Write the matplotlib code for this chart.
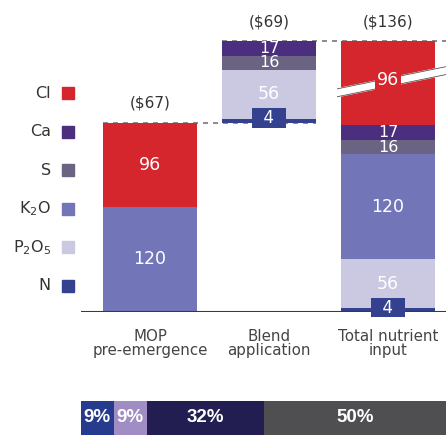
import matplotlib
matplotlib.use('Agg')
import matplotlib.pyplot as plt
from matplotlib.patches import Rectangle

plt.rcParams['font.family'] = ['DejaVu Sans']

# 养分（自下而上堆叠）及颜色
nutrients = ['N', 'P$_2$O$_5$', 'K$_2$O', 'S', 'Ca', 'Cl']
colors = ['#33418f', '#cbc8e2', '#7276b8', '#6a6482', '#4b2e7e', '#d5262e']

stages = ['MOP\npre-emergence', 'Blend\napplication', 'Total nutrient\ninput']
costs = ['($67)', '($69)', '($136)']

# 各阶段养分投入量，顺序同 nutrients
mop = [0, 0, 120, 0, 0, 96]
blend = [4, 56, 0, 16, 17, 0]
total = [4, 56, 120, 16, 17, 96]

# 底部占比条
share_vals = [9, 9, 32, 50]
share_labels = ['9%', '9%', '32%', '50%']
share_colors = ['#263a8e', '#9f8dc4', '#221e52', '#4f4f51']

W, H = 446, 437
fig = plt.figure(figsize=(W / 100, H / 100), dpi=100)
ax = fig.add_axes([81 / W, 1 - 312 / H, 365 / W, 312 / H])

series = [mop, blend, total]
starts = [0, sum(mop), 0]   # 瀑布图：混施从MOP顶部开始
w = 0.79
tops = []
for i, (vals, b0) in enumerate(zip(series, starts)):
    bottom = b0
    for j, v in enumerate(vals):
        if v == 0:
            continue
        ax.bar(i, v, w, bottom=bottom, color=colors[j], zorder=2)
        yc = bottom + v / 2
        if j == 0:
            # N量太小，标签放在色块里
            ax.text(i, yc + 3, '  %d  ' % v, ha='center', va='center', color='white',
                    fontsize=12, zorder=6,
                    bbox=dict(boxstyle='square,pad=0.05', fc=colors[0], ec='none'))
        elif i == 2 and nutrients[j] == 'Cl':
            # 截断标记
            x0, x1 = i - w / 2 - 0.03, i + w / 2 + 0.12
            s = 26.0
            d = 4.5
            ya = yc - s / 2 + 2
            yb = yc + s / 2 + 2
            ax.fill([x0, x1, x1, x0], [ya - d, yb - d, yb + d, ya + d],
                    color='white', zorder=3, clip_on=False)
            ax.plot([x0, x1], [ya - d, yb - d], color='#555555', lw=0.6, zorder=3, clip_on=False)
            ax.plot([x0, x1], [ya + d, yb + d], color='#555555', lw=0.6, zorder=3, clip_on=False)
            ax.text(i, yc + 4, str(v), ha='center', va='center', color='white',
                    fontsize=12.5, zorder=5,
                    bbox=dict(boxstyle='square,pad=0.1', fc=colors[j], ec='none'))
        else:
            ax.text(i, yc, str(v), ha='center', va='center', color='white',
                    fontsize=12.5 if v > 20 else 11.5, zorder=5)
        bottom += v
    tops.append(bottom)
    ax.annotate(costs[i], (i, bottom), xytext=(0, 14), textcoords='offset points',
                ha='center', va='center', fontsize=11, color='#333333')

# 虚线连接
ax.plot([0 - w / 2, 1 + w / 2], [tops[0], tops[0]], ls=(0, (3, 3)), color='#777777',
        lw=1.2, zorder=1)
ax.plot([1 - w / 2, 2 + w / 2 + 0.1], [tops[1], tops[1]], ls=(0, (3, 3)), color='#777777',
        lw=1.2, zorder=1, clip_on=False)

ax.axhline(0, color='#3a3a3a', lw=1.5, zorder=4)
ax.set_xlim(-0.58, 2.487)
ax.set_ylim(0, max(tops) * 312 / 271)
ax.set_xticks(range(3), stages)
ax.tick_params(length=0, pad=12, labelsize=10.8, labelcolor='#444444')
for lbl in ax.get_xticklabels():
    lbl.set_linespacing(0.95)
ax.set_yticks([])
for sp in ax.spines.values():
    sp.set_visible(False)

# 左侧图例
for k, (name, c) in enumerate(zip(nutrients[::-1], colors[::-1])):
    yc = 93 + k * 38.6
    fig.text(51 / W, 1 - yc / H, name, ha='right', va='center', fontsize=11.5,
             color='#333333')
    fig.add_artist(Rectangle((62 / W, 1 - (yc + 6) / H), 12 / W, 12 / H,
                             transform=fig.transFigure, color=c))

# 底部占比条
ax2 = fig.add_axes([81 / W, 2 / H, 365 / W, 34 / H])
left = 0
for v, lab, c in zip(share_vals, share_labels, share_colors):
    ax2.barh(0, v, 1, left=left, color=c)
    ax2.text(left + v / 2, 0, lab, ha='center', va='center', color='white',
             fontsize=13.5, fontweight='bold', family='Liberation Sans')
    left += v
ax2.set_xlim(0, sum(share_vals))
ax2.set_ylim(-0.5, 0.5)
ax2.axis('off')

fig.savefig('out.png', dpi=100)
